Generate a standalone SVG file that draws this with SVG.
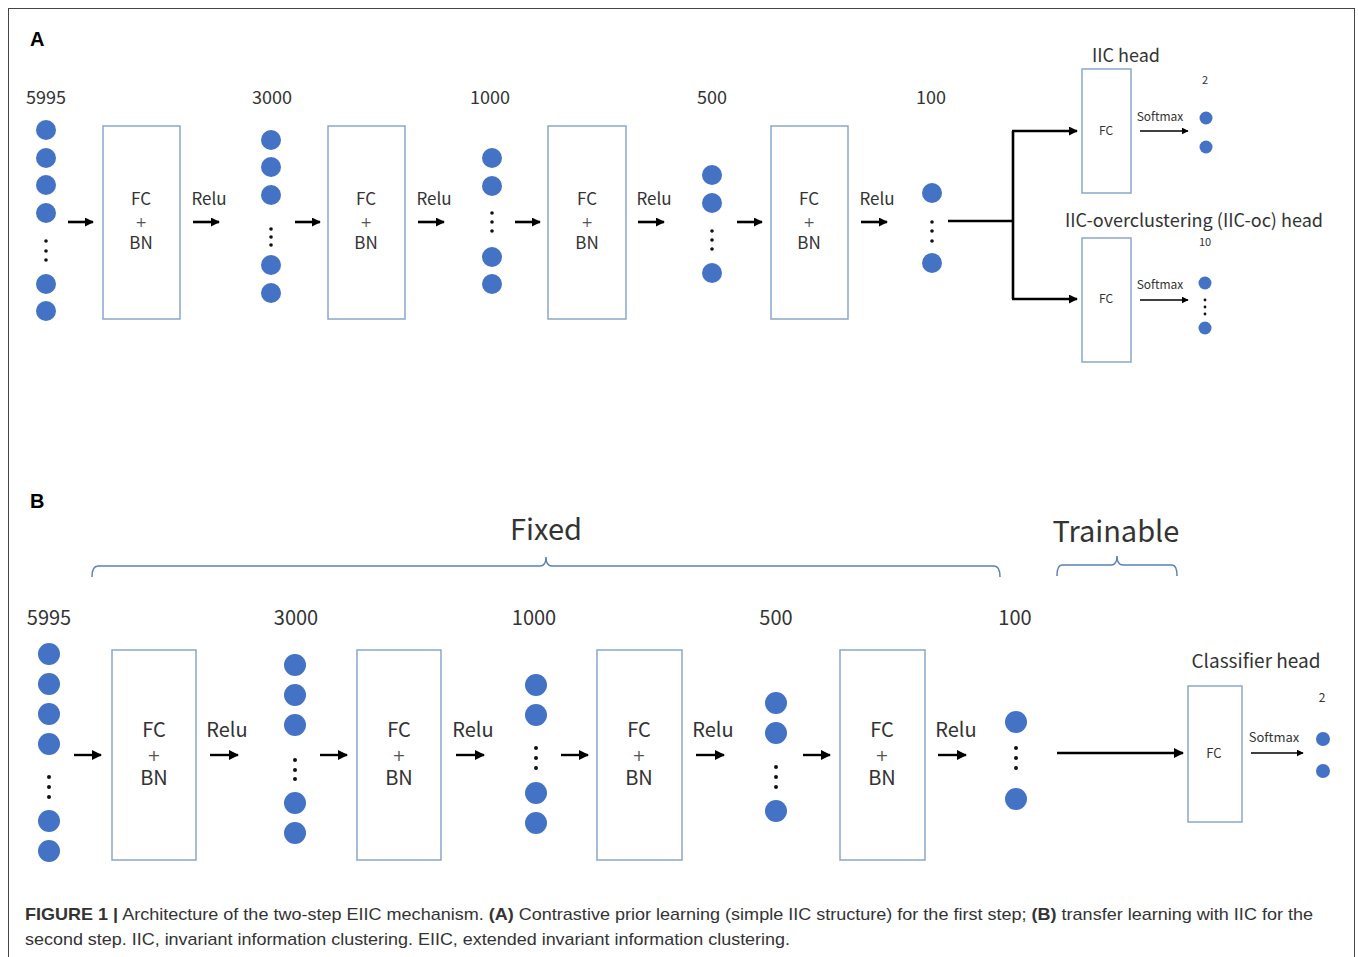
<svg xmlns="http://www.w3.org/2000/svg" width="1358" height="957" viewBox="0 0 1358 957">
<defs>
<style>
.lbl{font-family:"Noto Sans CJK JP","Noto Sans","DejaVu Sans",sans-serif;fill:#333;text-anchor:middle}
.pl{font-family:"DejaVu Sans","Noto Sans",sans-serif;fill:#555;text-anchor:middle}
.box{fill:#fff;stroke:#8BA6C9;stroke-width:1.5}
.n{fill:#4472C4}
.d{fill:#111}
.arr{stroke:#000;stroke-width:2.6;fill:none;marker-end:url(#ah)}
.arr2{stroke:#000;stroke-width:2.4;fill:none;marker-end:url(#ah2)}
.thin{stroke:#000;stroke-width:1.6;fill:none;marker-end:url(#ah3)}
.brace{fill:none;stroke:#5B80B6;stroke-width:1.5}
.cap{font-family:"Liberation Sans",Arial,sans-serif;font-size:17px;fill:#333}
.bold{font-weight:bold;font-family:"Liberation Sans",Arial,sans-serif}
</style>
<marker id="ah" viewBox="0 0 10 10" refX="9" refY="5" markerWidth="9" markerHeight="9" markerUnits="userSpaceOnUse" orient="auto"><path d="M0,0 L10,5 L0,10 z" fill="#000"/></marker>
<marker id="ah2" viewBox="0 0 10 10" refX="9" refY="5" markerWidth="10" markerHeight="10" markerUnits="userSpaceOnUse" orient="auto"><path d="M0,0 L10,5 L0,10 z" fill="#000"/></marker>
<marker id="ah3" viewBox="0 0 10 10" refX="9" refY="5" markerWidth="7" markerHeight="7" markerUnits="userSpaceOnUse" orient="auto"><path d="M0,0 L10,5 L0,10 z" fill="#000"/></marker>
</defs>
<rect x="8.5" y="8.5" width="1346" height="970" fill="#fff" stroke="#444" stroke-width="1"/>
<text x="30" y="46" class="bold" font-size="20" fill="#000">A</text>
<text x="30" y="508" class="bold" font-size="20" fill="#000">B</text>

<!-- Panel A -->
<g id="a-layer1">
<text class="lbl" x="46" y="104" font-size="18">5995</text>
<circle class="n" cx="46" cy="130" r="10"/><circle class="n" cx="46" cy="158" r="10"/><circle class="n" cx="46" cy="185" r="10"/><circle class="n" cx="46" cy="213" r="10"/>
<circle class="d" cx="46" cy="241" r="1.8"/><circle class="d" cx="46" cy="251" r="1.8"/><circle class="d" cx="46" cy="260" r="1.8"/>
<circle class="n" cx="46" cy="284" r="10"/><circle class="n" cx="46" cy="311" r="10"/>
</g>
<g id="a-box1"><rect class="box" x="103" y="126" width="77" height="193"/>
<text class="lbl" x="141" y="205" font-size="17">FC</text><text class="pl" x="141" y="227" font-size="14">+</text><text class="lbl" x="141" y="249" font-size="17">BN</text></g>
<g id="a-layer2">
<text class="lbl" x="272" y="104" font-size="18">3000</text>
<circle class="n" cx="271" cy="140" r="10"/><circle class="n" cx="271" cy="167" r="10"/><circle class="n" cx="271" cy="195" r="10"/>
<circle class="d" cx="271" cy="229" r="1.8"/><circle class="d" cx="271" cy="237" r="1.8"/><circle class="d" cx="271" cy="245" r="1.8"/>
<circle class="n" cx="271" cy="265" r="10"/><circle class="n" cx="271" cy="293" r="10"/>
</g>
<g id="a-box2"><rect class="box" x="328" y="126" width="77" height="193"/>
<text class="lbl" x="366" y="205" font-size="17">FC</text><text class="pl" x="366" y="227" font-size="14">+</text><text class="lbl" x="366" y="249" font-size="17">BN</text></g>
<g id="a-layer3">
<text class="lbl" x="490" y="104" font-size="18">1000</text>
<circle class="n" cx="492" cy="158" r="10"/><circle class="n" cx="492" cy="186" r="10"/>
<circle class="d" cx="492" cy="213" r="1.8"/><circle class="d" cx="492" cy="222" r="1.8"/><circle class="d" cx="492" cy="231" r="1.8"/>
<circle class="n" cx="492" cy="257" r="10"/><circle class="n" cx="492" cy="284" r="10"/>
</g>
<g id="a-box3"><rect class="box" x="548" y="126" width="78" height="193"/>
<text class="lbl" x="587" y="205" font-size="17">FC</text><text class="pl" x="587" y="227" font-size="14">+</text><text class="lbl" x="587" y="249" font-size="17">BN</text></g>
<g id="a-layer4">
<text class="lbl" x="712" y="104" font-size="18">500</text>
<circle class="n" cx="712" cy="175" r="10"/><circle class="n" cx="712" cy="203" r="10"/>
<circle class="d" cx="712" cy="231" r="1.8"/><circle class="d" cx="712" cy="240" r="1.8"/><circle class="d" cx="712" cy="249" r="1.8"/>
<circle class="n" cx="712" cy="273" r="10"/>
</g>
<g id="a-box4"><rect class="box" x="771" y="126" width="77" height="193"/>
<text class="lbl" x="809" y="205" font-size="17">FC</text><text class="pl" x="809" y="227" font-size="14">+</text><text class="lbl" x="809" y="249" font-size="17">BN</text></g>
<g id="a-layer5">
<text class="lbl" x="931" y="104" font-size="18">100</text>
<circle class="n" cx="932" cy="193" r="10"/>
<circle class="d" cx="932" cy="222" r="1.8"/><circle class="d" cx="932" cy="231" r="1.8"/><circle class="d" cx="932" cy="241" r="1.8"/>
<circle class="n" cx="932" cy="263" r="10"/>
</g>
<g id="a-iic-head">
<text class="lbl" x="1126" y="62" font-size="18">IIC head</text>
<rect class="box" x="1082" y="69" width="49" height="124"/>
<text class="lbl" x="1106" y="135" font-size="12">FC</text>
<text class="lbl" x="1160" y="121" font-size="12">Softmax</text>
<text class="lbl" x="1205" y="84" font-size="11">2</text>
<circle class="n" cx="1206" cy="118" r="6.5"/><circle class="n" cx="1206" cy="147" r="6.5"/>
</g>
<g id="a-iicoc-head">
<text class="lbl" x="1194" y="227" font-size="18" textLength="258" lengthAdjust="spacingAndGlyphs">IIC-overclustering (IIC-oc) head</text>
<rect class="box" x="1082" y="238" width="49" height="124"/>
<text class="lbl" x="1106" y="303" font-size="12">FC</text>
<text class="lbl" x="1160" y="289" font-size="12">Softmax</text>
<text class="lbl" x="1205" y="246" font-size="11">10</text>
<circle class="n" cx="1205" cy="283" r="6.5"/>
<circle class="d" cx="1205" cy="300" r="1.4"/><circle class="d" cx="1205" cy="307" r="1.4"/><circle class="d" cx="1205" cy="314" r="1.4"/>
<circle class="n" cx="1205" cy="328" r="6.5"/>
</g>

<!-- Panel B -->
<text class="lbl" x="546" y="540" font-size="29">Fixed</text>
<text class="lbl" x="1116" y="542" font-size="29">Trainable</text>
<g id="braces">
<path class="brace" d="M92,577 Q92,566 98,566 L540,566 Q546,566 546,557 Q546,566 552,566 L994,566 Q1000,566 1000,577"/>
<path class="brace" d="M1057,576 Q1057,565 1062,565 L1111,565 Q1117,565 1117,556 Q1117,565 1123,565 L1172,565 Q1177,565 1177,576"/>
</g>
<g id="b-layer1">
<text class="lbl" x="49" y="625" font-size="20">5995</text>
<circle class="n" cx="49" cy="654" r="11"/><circle class="n" cx="49" cy="684" r="11"/><circle class="n" cx="49" cy="714" r="11"/><circle class="n" cx="49" cy="744" r="11"/>
<circle class="d" cx="49" cy="777" r="2"/><circle class="d" cx="49" cy="787" r="2"/><circle class="d" cx="49" cy="797" r="2"/>
<circle class="n" cx="49" cy="821" r="11"/><circle class="n" cx="49" cy="851" r="11"/>
</g>
<g id="b-box1"><rect class="box" x="112" y="650" width="84" height="210"/>
<text class="lbl" x="154" y="737" font-size="20">FC</text><text class="pl" x="154" y="761" font-size="16">+</text><text class="lbl" x="154" y="785" font-size="20">BN</text></g>
<g id="b-layer2">
<text class="lbl" x="296" y="625" font-size="20">3000</text>
<circle class="n" cx="295" cy="665" r="11"/><circle class="n" cx="295" cy="695" r="11"/><circle class="n" cx="295" cy="725" r="11"/>
<circle class="d" cx="295" cy="760" r="2"/><circle class="d" cx="295" cy="770" r="2"/><circle class="d" cx="295" cy="779" r="2"/>
<circle class="n" cx="295" cy="803" r="11"/><circle class="n" cx="295" cy="833" r="11"/>
</g>
<g id="b-box2"><rect class="box" x="357" y="650" width="84" height="210"/>
<text class="lbl" x="399" y="737" font-size="20">FC</text><text class="pl" x="399" y="761" font-size="16">+</text><text class="lbl" x="399" y="785" font-size="20">BN</text></g>
<g id="b-layer3">
<text class="lbl" x="534" y="625" font-size="20">1000</text>
<circle class="n" cx="536" cy="685" r="11"/><circle class="n" cx="536" cy="715" r="11"/>
<circle class="d" cx="536" cy="748" r="2"/><circle class="d" cx="536" cy="758" r="2"/><circle class="d" cx="536" cy="768" r="2"/>
<circle class="n" cx="536" cy="793" r="11"/><circle class="n" cx="536" cy="823" r="11"/>
</g>
<g id="b-box3"><rect class="box" x="597" y="650" width="85" height="210"/>
<text class="lbl" x="639" y="737" font-size="20">FC</text><text class="pl" x="639" y="761" font-size="16">+</text><text class="lbl" x="639" y="785" font-size="20">BN</text></g>
<g id="b-layer4">
<text class="lbl" x="776" y="625" font-size="20">500</text>
<circle class="n" cx="776" cy="703" r="11"/><circle class="n" cx="776" cy="733" r="11"/>
<circle class="d" cx="776" cy="767" r="2"/><circle class="d" cx="776" cy="777" r="2"/><circle class="d" cx="776" cy="787" r="2"/>
<circle class="n" cx="776" cy="811" r="11"/>
</g>
<g id="b-box4"><rect class="box" x="840" y="650" width="85" height="210"/>
<text class="lbl" x="882" y="737" font-size="20">FC</text><text class="pl" x="882" y="761" font-size="16">+</text><text class="lbl" x="882" y="785" font-size="20">BN</text></g>
<g id="b-layer5">
<text class="lbl" x="1015" y="625" font-size="20">100</text>
<circle class="n" cx="1016" cy="722" r="11"/>
<circle class="d" cx="1016" cy="748" r="2"/><circle class="d" cx="1016" cy="758" r="2"/><circle class="d" cx="1016" cy="768" r="2"/>
<circle class="n" cx="1016" cy="799" r="11"/>
</g>
<g id="b-classifier-head">
<text class="lbl" x="1256" y="668" font-size="19">Classifier head</text>
<rect class="box" x="1188" y="686" width="54" height="136"/>
<text class="lbl" x="1214" y="758" font-size="13">FC</text>
<text class="lbl" x="1274" y="742" font-size="13">Softmax</text>
<text class="lbl" x="1322" y="702" font-size="12">2</text>
<circle class="n" cx="1323" cy="739" r="7"/><circle class="n" cx="1323" cy="771" r="7"/>
</g>

<g id="connectors">
<line class="arr" x1="68" y1="222" x2="93" y2="222"/>
<line class="arr" x1="193" y1="222" x2="219" y2="222"/>
<line class="arr" x1="295" y1="222" x2="320" y2="222"/>
<line class="arr" x1="418" y1="222" x2="444" y2="222"/>
<line class="arr" x1="515" y1="222" x2="540" y2="222"/>
<line class="arr" x1="638" y1="222" x2="664" y2="222"/>
<line class="arr" x1="737" y1="222" x2="762" y2="222"/>
<line class="arr" x1="861" y1="222" x2="887" y2="222"/>
<polyline fill="none" stroke="#000" stroke-width="2.6" points="948,221 1013,221"/>
<polyline fill="none" stroke="#000" stroke-width="2.6" points="1013,131 1013,299"/>
<line class="arr" x1="1012" y1="131" x2="1077" y2="131"/>
<line class="arr" x1="1012" y1="299" x2="1077" y2="299"/>
<line class="thin" x1="1140" y1="131" x2="1188" y2="131"/>
<line class="thin" x1="1140" y1="300" x2="1188" y2="300"/>
<line class="arr2" x1="74" y1="755" x2="101" y2="755"/>
<line class="arr2" x1="210" y1="755" x2="238" y2="755"/>
<line class="arr2" x1="320" y1="755" x2="347" y2="755"/>
<line class="arr2" x1="456" y1="755" x2="484" y2="755"/>
<line class="arr2" x1="561" y1="755" x2="588" y2="755"/>
<line class="arr2" x1="696" y1="755" x2="724" y2="755"/>
<line class="arr2" x1="803" y1="755" x2="830" y2="755"/>
<line class="arr2" x1="938" y1="755" x2="966" y2="755"/>
<line class="arr2" x1="1057" y1="753" x2="1183" y2="753"/>
<line class="thin" x1="1251" y1="753" x2="1303" y2="753"/>
</g>

<text class="lbl" x="209" y="205" font-size="17">Relu</text>
<text class="lbl" x="434" y="205" font-size="17">Relu</text>
<text class="lbl" x="654" y="205" font-size="17">Relu</text>
<text class="lbl" x="877" y="205" font-size="17">Relu</text>
<text class="lbl" x="227" y="737" font-size="20">Relu</text>
<text class="lbl" x="473" y="737" font-size="20">Relu</text>
<text class="lbl" x="713" y="737" font-size="20">Relu</text>
<text class="lbl" x="956" y="737" font-size="20">Relu</text>

<text class="cap" x="25" y="920" textLength="1288" lengthAdjust="spacingAndGlyphs"><tspan class="bold">FIGURE 1 |</tspan> Architecture of the two-step EIIC mechanism. <tspan class="bold">(A)</tspan> Contrastive prior learning (simple IIC structure) for the first step; <tspan class="bold">(B)</tspan> transfer learning with IIC for the</text>
<text class="cap" x="25" y="945" textLength="765" lengthAdjust="spacingAndGlyphs">second step. IIC, invariant information clustering. EIIC, extended invariant information clustering.</text>
</svg>
